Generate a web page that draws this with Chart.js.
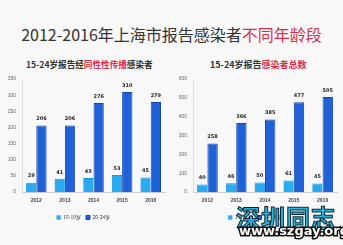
<!DOCTYPE html>
<html><head><meta charset="utf-8">
<script src="https://cdn.jsdelivr.net/npm/chart.js@4"></script>
<style>
html,body{margin:0;padding:0;width:343px;height:245px;overflow:hidden;background:#f8f8f8;font-family:"Noto Sans CJK SC","Noto Sans",sans-serif;}
#title{position:absolute;left:0;top:22px;width:343px;text-align:center;font-size:16px;color:#333;white-space:nowrap;letter-spacing:0px;}
.sub{position:absolute;top:58px;font-size:9px;font-weight:bold;color:#333;white-space:nowrap;}
.red{color:#d8304a;}
#c1{position:absolute;left:0;top:70px;}
#c2{position:absolute;left:171px;top:70px;}
#wm1{position:absolute;left:236px;top:199px;font-size:24px;font-weight:bold;color:#22b8dc;-webkit-text-stroke:1px #123;white-space:nowrap;letter-spacing:1px;}
#wm2{position:absolute;left:239px;top:223px;font-size:13px;font-weight:bold;color:#fff;-webkit-text-stroke:3px #111;paint-order:stroke fill;white-space:nowrap;font-family:"DejaVu Sans",sans-serif;}
</style></head><body>
<div id="title">2012-2016年上海市报告感染者<span class="red">不同年龄段</span></div>
<div class="sub" style="left:26px;font-size:8.6px">15-24岁报告经<span class="red">同性性传播</span>感染者</div>
<div class="sub" style="left:210px">15-24岁报告<span class="red">感染者总数</span></div>
<canvas id="c1" width="171" height="160"></canvas>
<canvas id="c2" width="172" height="160"></canvas>
<div id="wm1">深圳同志</div>
<div id="wm2">www.szgay.org</div>
<script>
const categories = ["2012","2013","2014","2015","2016"];
const seriesNames = ["15-19岁","20-24岁"];
const leftAge1519 = [29, 41, 43, 53, 45];
const leftAge2024 = [206, 206, 276, 310, 279];
const rightAge1519 = [40, 46, 50, 61, 45];
const rightAge2024 = [258, 366, 385, 477, 505];
const leftTicks = {max:350, step:50};
const rightTicks = {max:600, step:100};

const labelPlugin = {
  id:'vlabels',
  afterDatasetsDraw(chart){
    const ctx = chart.ctx;
    ctx.save();
    ctx.font = 'bold 5px "DejaVu Sans"';
    ctx.fillStyle = '#222';
    ctx.textAlign = 'center';
    ctx.textBaseline = 'bottom';
    chart.data.datasets.forEach((ds,i)=>{
      chart.getDatasetMeta(i).data.forEach((bar,j)=>{
        ctx.fillText(ds.data[j], bar.x, bar.y - 4);
      });
    });
    ctx.restore();
  }
};

function makeChart(id, a, b, t, yw){
  return new Chart(document.getElementById(id), {
    type:'bar',
    data:{labels:categories, datasets:[
      {label:seriesNames[0], data:a, backgroundColor:'#2aaaf0', borderColor:'#1e90d8', borderWidth:{top:1,left:0,right:0,bottom:0}},
      {label:seriesNames[1], data:b, backgroundColor:'#1f62d8', borderColor:'#1747a8', borderWidth:1}
    ]},
    options:{
      responsive:false, animation:false, devicePixelRatio:1,
      layout:{padding:{top:9,right:6,left:2,bottom:0}},
      datasets:{bar:{categoryPercentage:0.72, barPercentage:1.0}},
      plugins:{
        legend:{position:'bottom', labels:{boxWidth:4, boxHeight:4, font:{size:5, family:'"Noto Sans CJK SC"'}, color:'#333', padding:5}},
        tooltip:{enabled:false}
      },
      scales:{
        x:{grid:{display:false, drawTicks:false}, border:{color:'#ccc'}, ticks:{font:{size:5, weight:'bold'}, color:'#444', padding:6}},
        y:{min:0, max:t.max, grid:{display:false, drawTicks:false}, border:{color:'#ddd'},
           ticks:{stepSize:t.step, font:{size:5}, color:'#666', padding:6},
           afterFit(s){ s.width = yw; }}
      }
    },
    plugins:[labelPlugin]
  });
}
makeChart('c1', leftAge1519, leftAge2024, leftTicks, 20);
makeChart('c2', rightAge1519, rightAge2024, rightTicks, 20);
</script>
</body></html>
